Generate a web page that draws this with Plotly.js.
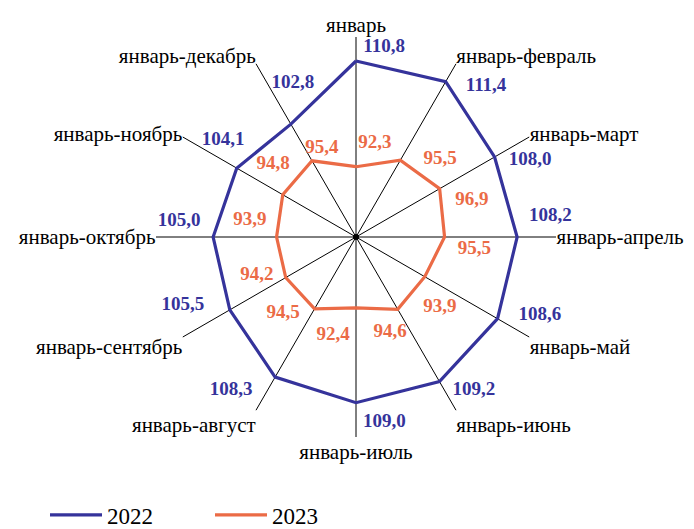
<!DOCTYPE html>
<html>
<head>
<meta charset="utf-8">
<script src="https://cdn.plot.ly/plotly-3.0.1.min.js"></script>
<style>html,body{margin:0;padding:0;background:#fff;}#chart{width:694px;height:529px;}</style>
</head>
<body>
<div id="chart"></div>
<script>
// ---- data ----
const categories = ['январь','январь-февраль','январь-март','январь-апрель','январь-май','январь-июнь',
  'январь-июль','январь-август','январь-сентябрь','январь-октябрь','январь-ноябрь','январь-декабрь'];
const series2022 = [110.8, 111.4, 108.0, 108.2, 108.6, 109.2, 109.0, 108.3, 105.5, 105.0, 104.1, 102.8];
const series2023 = [92.3, 95.5, 96.9, 95.5, 93.9, 94.6, 92.4, 94.5, 94.2, 93.9, 94.8, 95.4];
const seriesNames = ['2022', '2023'];

// ---- styles ----
const radialRange = [80, 115];
const colors = ['#35339B', '#EB6B46'];
const serif = 'Liberation Serif';
// value-label offsets relative to each point (degrees, radial units)
const lblDTheta2022 = [8.4, 10.7, 6.3, -6.2, -6.9, -7.6, -8.7, 9.2, 8.4, 5.2, 6.1, 7.7];
const lblDR2022 = [2.8, 3.5, 5.3, 6.0, 6.4, 4.6, 3.8, 6.3, 7.1, 6.1, 4.7, 6.3];
const lblDTheta2023 = [11.4, 17.1, 12.3, 5.8, 9.8, 10.3, 13.2, 13.8, 9, 9.1, 11.3, 9.1];
const lblDR2023 = [4.5, 4.6, 4.4, 5.3, 5.2, 3.1, 5.2, 3.9, 4.4, 4.9, 4.5, 1.3];

const step = 360 / categories.length;
const thetas = categories.map((c, i) => i * step);
const fmt = v => v.toFixed(1).replace('.', ',');

function lineTrace(vals, name, color) {
  return {
    type: 'scatterpolar', mode: 'lines', name: name,
    r: vals.concat([vals[0]]), theta: thetas.concat([360]),
    line: {color: color, width: 3.2}, hoverinfo: 'skip', cliponaxis: false
  };
}
function labelTrace(vals, dth, dr, color) {
  return {
    type: 'scatterpolar', mode: 'text', showlegend: false,
    r: vals.map((v, i) => v + dr[i]), theta: thetas.map((t, i) => t + dth[i]),
    text: vals.map(fmt), textposition: 'middle center',
    textfont: {family: serif, size: 19, color: color, weight: 'bold'},
    hoverinfo: 'skip', cliponaxis: false
  };
}

const data = [
  lineTrace(series2022, seriesNames[0], colors[0]),
  lineTrace(series2023, seriesNames[1], colors[1]),
  labelTrace(series2022, lblDTheta2022, lblDR2022, colors[0]),
  labelTrace(series2023, lblDTheta2023, lblDR2023, colors[1]),
  {type: 'scatterpolar', mode: 'markers', showlegend: false, r: [radialRange[0]], theta: [0],
   marker: {color: '#000', size: 6}, hoverinfo: 'skip', cliponaxis: false}
];

const W = 694, H = 529;
const layout = {
  width: W, height: H,
  margin: {l: 0, r: 0, t: 0, b: 0, autoexpand: false},
  paper_bgcolor: '#fff',
  font: {family: serif, color: '#000'},
  showlegend: true,
  legend: {orientation: 'h', x: 45 / W, xanchor: 'left', y: 14 / H, yanchor: 'middle',
    font: {family: serif, size: 23, color: '#000'}, itemwidth: 52, tracegroupgap: 0,
    entrywidth: 98},
  polar: {
    domain: {x: [156 / W, 556 / W], y: [1 - 437 / H, 1 - 37 / H]},
    bgcolor: 'rgba(0,0,0,0)',
    radialaxis: {range: radialRange, visible: false, showgrid: false},
    angularaxis: {
      rotation: 90, direction: 'clockwise', thetaunit: 'degrees',
      tickmode: 'array', tickvals: thetas, ticktext: categories,
      showgrid: true, gridcolor: '#000', gridwidth: 1,
      showline: false, ticks: '',
      tickfont: {family: serif, size: 21, color: '#000'}
    }
  }
};

Plotly.newPlot('chart', data, layout, {displayModeBar: false, staticPlot: true});
</script>
</body>
</html>
